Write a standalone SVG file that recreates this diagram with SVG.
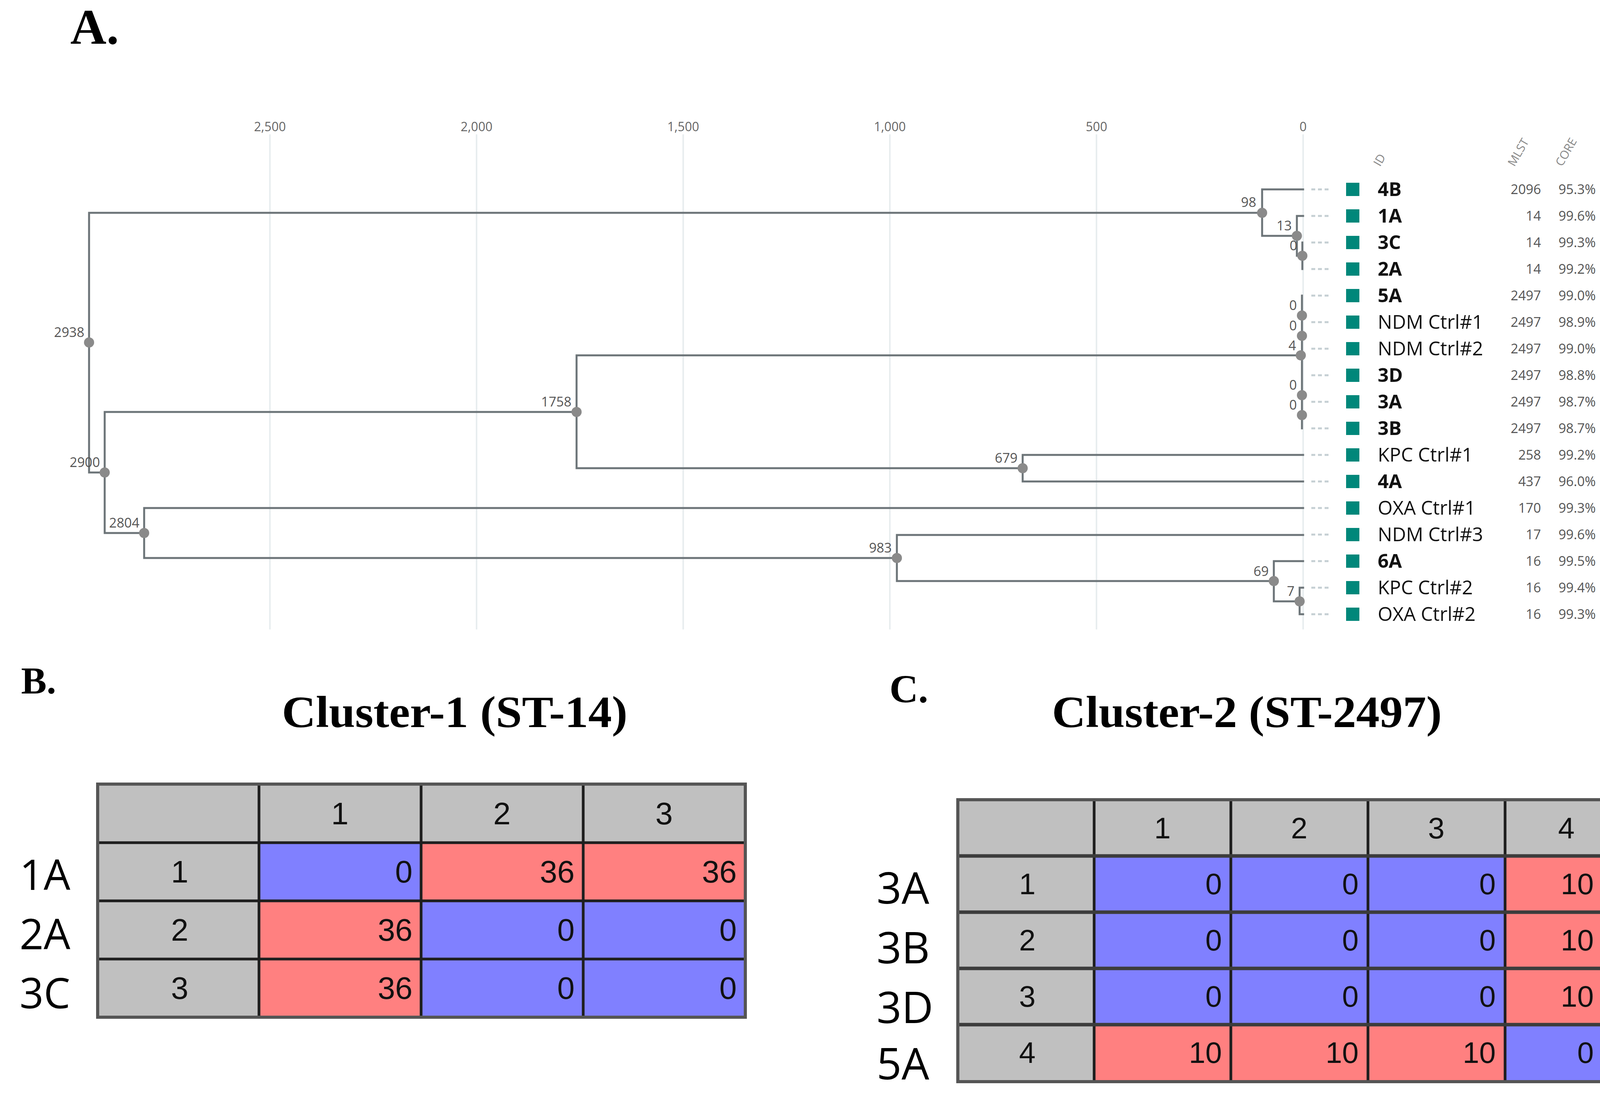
<svg xmlns="http://www.w3.org/2000/svg" width="4252" height="2817" viewBox="0 0 4252 2817">
<style>
.bg{fill:#ffffff}
.panel{font-family:"Liberation Serif",serif;font-weight:bold;fill:#000}
.title{font-family:"Liberation Serif",serif;font-weight:bold;fill:#000;text-anchor:middle}
.grid{stroke:#e8edef;stroke-width:4}
.axis{font-family:"Open Sans","DejaVu Sans",sans-serif;font-size:32px;fill:#666;text-anchor:middle}
.br{stroke:#6c7478;stroke-width:5;fill:none;stroke-linecap:square}
.dot{fill:#8a8a8a}
.nl{font-family:"Open Sans","DejaVu Sans",sans-serif;font-size:34px;fill:#555;text-anchor:end}
.dash{stroke:#c5cfd3;stroke-width:5;stroke-dasharray:10 7}
.sq{fill:#00877a}
.id{font-family:"Open Sans","DejaVu Sans",sans-serif;font-size:49px;fill:#111}
.idb{font-family:"Open Sans","DejaVu Sans",sans-serif;font-size:49px;fill:#111;font-weight:bold}
.num{font-family:"Open Sans","DejaVu Sans",sans-serif;font-size:34px;fill:#555;text-anchor:end}
.hdr{font-family:"Open Sans","DejaVu Sans",sans-serif;font-size:30px;fill:#888}
.g{fill:#c0c0c0}
.b{fill:#8080ff}
.r{fill:#ff8080}
.tl{stroke:#1e1e1e;stroke-width:7;fill:none}
.tlo{stroke:#555;stroke-width:8;fill:none}
.tc{font-family:"Liberation Sans",Arial,sans-serif;fill:#111;text-anchor:middle}
.tv{font-family:"Liberation Sans",Arial,sans-serif;fill:#111;text-anchor:end}
.rl{font-family:"Open Sans","DejaVu Sans",sans-serif;fill:#000}
</style>
<rect class="bg" x="0" y="0" width="4252" height="2817"/>

<!-- Panel letters and titles -->
<text class="panel" x="180" y="112" font-size="128">A.</text>
<text class="panel" x="54" y="1776" font-size="98">B.</text>
<text class="panel" x="2277" y="1799" font-size="102">C.</text>
<text class="title" x="1164" y="1862" font-size="114" textLength="885" lengthAdjust="spacingAndGlyphs">Cluster-1 (ST-14)</text>
<text class="title" x="3192" y="1862" font-size="114" textLength="998" lengthAdjust="spacingAndGlyphs">Cluster-2 (ST-2497)</text>

<!-- Axis -->
<g id="axis">
<line class="grid" x1="691" y1="344" x2="691" y2="1612"/>
<line class="grid" x1="1220" y1="344" x2="1220" y2="1612"/>
<line class="grid" x1="1749" y1="344" x2="1749" y2="1612"/>
<line class="grid" x1="2278" y1="344" x2="2278" y2="1612"/>
<line class="grid" x1="2807" y1="344" x2="2807" y2="1612"/>
<line class="grid" x1="3336" y1="344" x2="3336" y2="1612"/>
<text class="axis" x="691" y="336">2,500</text>
<text class="axis" x="1220" y="336">2,000</text>
<text class="axis" x="1749" y="336">1,500</text>
<text class="axis" x="2278" y="336">1,000</text>
<text class="axis" x="2807" y="336">500</text>
<text class="axis" x="3336" y="336">0</text>
</g>

<!-- Column headers -->
<g id="headers">
<text class="hdr" transform="translate(3533,428) rotate(-60)">ID</text>
<text class="hdr" transform="translate(3877,428) rotate(-60)">MLST</text>
<text class="hdr" transform="translate(3999,428) rotate(-60)">CORE</text>
</g>

<!-- Tree branches -->
<g id="connectors">
<path class="br" d="M3231,545 H228 V1210 H268"/>
<path class="br" d="M3336,485 H3231 V604 H3320"/>
<path class="br" d="M3336,553 H3320 V655 H3334"/>
<path class="br" d="M3334,621 V689"/>
<path class="br" d="M3333,757 V1097"/>
<path class="br" d="M1476,1055 H268 V1365 H369"/>
<path class="br" d="M3330,910 H1476 V1199 H2618"/>
<path class="br" d="M3336,1165 H2618 V1233 H3336"/>
<path class="br" d="M3336,1301 H369 V1429 H2296"/>
<path class="br" d="M3336,1370 H2296 V1488 H3261"/>
<path class="br" d="M3336,1437 H3261 V1540 H3327"/>
<path class="br" d="M3336,1505 H3327 V1573 H3336"/>
</g>

<!-- Internal nodes -->
<g id="node-2938"><circle class="dot" cx="228" cy="877" r="13"/><text class="nl" x="216" y="863">2938</text></g>
<g id="node-2900"><circle class="dot" cx="268" cy="1210" r="13"/><text class="nl" x="256" y="1196">2900</text></g>
<g id="node-2804"><circle class="dot" cx="369" cy="1365" r="13"/><text class="nl" x="357" y="1351">2804</text></g>
<g id="node-1758"><circle class="dot" cx="1476" cy="1055" r="13"/><text class="nl" x="1463" y="1041">1758</text></g>
<g id="node-983"><circle class="dot" cx="2296" cy="1429" r="13"/><text class="nl" x="2283" y="1415">983</text></g>
<g id="node-679"><circle class="dot" cx="2618" cy="1199" r="13"/><text class="nl" x="2605" y="1185">679</text></g>
<g id="node-98"><circle class="dot" cx="3231" cy="545" r="13"/><text class="nl" x="3216" y="530">98</text></g>
<g id="node-13"><circle class="dot" cx="3320" cy="604" r="13"/><text class="nl" x="3307" y="590">13</text></g>
<g id="node-0a"><circle class="dot" cx="3334" cy="655" r="13"/><text class="nl" x="3321" y="641">0</text></g>
<g id="node-0b"><circle class="dot" cx="3333" cy="808" r="13"/><text class="nl" x="3320" y="794">0</text></g>
<g id="node-0c"><circle class="dot" cx="3333" cy="860" r="13"/><text class="nl" x="3320" y="846">0</text></g>
<g id="node-4"><circle class="dot" cx="3330" cy="910" r="13"/><text class="nl" x="3318" y="897">4</text></g>
<g id="node-0d"><circle class="dot" cx="3333" cy="1012" r="13"/><text class="nl" x="3320" y="998">0</text></g>
<g id="node-0e"><circle class="dot" cx="3333" cy="1063" r="13"/><text class="nl" x="3320" y="1049">0</text></g>
<g id="node-69"><circle class="dot" cx="3261" cy="1488" r="13"/><text class="nl" x="3248" y="1475">69</text></g>
<g id="node-7"><circle class="dot" cx="3327" cy="1540" r="13"/><text class="nl" x="3314" y="1526">7</text></g>

<!-- Leaves -->
<g id="leaf-4B"><line class="dash" x1="3357" y1="485" x2="3401" y2="485"/><rect class="sq" x="3446" y="468" width="34" height="34"/><text class="idb" x="3527" y="502">4B</text><text class="num" x="3945" y="497">2096</text><text class="num" x="4085" y="497">95.3%</text></g>
<g id="leaf-1A"><line class="dash" x1="3357" y1="553" x2="3401" y2="553"/><rect class="sq" x="3446" y="536" width="34" height="34"/><text class="idb" x="3527" y="570">1A</text><text class="num" x="3945" y="565">14</text><text class="num" x="4085" y="565">99.6%</text></g>
<g id="leaf-3C"><line class="dash" x1="3357" y1="621" x2="3401" y2="621"/><rect class="sq" x="3446" y="604" width="34" height="34"/><text class="idb" x="3527" y="638">3C</text><text class="num" x="3945" y="633">14</text><text class="num" x="4085" y="633">99.3%</text></g>
<g id="leaf-2A"><line class="dash" x1="3357" y1="689" x2="3401" y2="689"/><rect class="sq" x="3446" y="672" width="34" height="34"/><text class="idb" x="3527" y="706">2A</text><text class="num" x="3945" y="701">14</text><text class="num" x="4085" y="701">99.2%</text></g>
<g id="leaf-5A"><line class="dash" x1="3357" y1="757" x2="3401" y2="757"/><rect class="sq" x="3446" y="740" width="34" height="34"/><text class="idb" x="3527" y="774">5A</text><text class="num" x="3945" y="769">2497</text><text class="num" x="4085" y="769">99.0%</text></g>
<g id="leaf-NDM1"><line class="dash" x1="3357" y1="825" x2="3401" y2="825"/><rect class="sq" x="3446" y="808" width="34" height="34"/><text class="id" x="3527" y="842">NDM Ctrl#1</text><text class="num" x="3945" y="837">2497</text><text class="num" x="4085" y="837">98.9%</text></g>
<g id="leaf-NDM2"><line class="dash" x1="3357" y1="893" x2="3401" y2="893"/><rect class="sq" x="3446" y="876" width="34" height="34"/><text class="id" x="3527" y="910">NDM Ctrl#2</text><text class="num" x="3945" y="905">2497</text><text class="num" x="4085" y="905">99.0%</text></g>
<g id="leaf-3D"><line class="dash" x1="3357" y1="961" x2="3401" y2="961"/><rect class="sq" x="3446" y="944" width="34" height="34"/><text class="idb" x="3527" y="978">3D</text><text class="num" x="3945" y="973">2497</text><text class="num" x="4085" y="973">98.8%</text></g>
<g id="leaf-3A"><line class="dash" x1="3357" y1="1029" x2="3401" y2="1029"/><rect class="sq" x="3446" y="1012" width="34" height="34"/><text class="idb" x="3527" y="1046">3A</text><text class="num" x="3945" y="1041">2497</text><text class="num" x="4085" y="1041">98.7%</text></g>
<g id="leaf-3B"><line class="dash" x1="3357" y1="1097" x2="3401" y2="1097"/><rect class="sq" x="3446" y="1080" width="34" height="34"/><text class="idb" x="3527" y="1114">3B</text><text class="num" x="3945" y="1109">2497</text><text class="num" x="4085" y="1109">98.7%</text></g>
<g id="leaf-KPC1"><line class="dash" x1="3357" y1="1165" x2="3401" y2="1165"/><rect class="sq" x="3446" y="1148" width="34" height="34"/><text class="id" x="3527" y="1182">KPC Ctrl#1</text><text class="num" x="3945" y="1177">258</text><text class="num" x="4085" y="1177">99.2%</text></g>
<g id="leaf-4A"><line class="dash" x1="3357" y1="1233" x2="3401" y2="1233"/><rect class="sq" x="3446" y="1216" width="34" height="34"/><text class="idb" x="3527" y="1250">4A</text><text class="num" x="3945" y="1245">437</text><text class="num" x="4085" y="1245">96.0%</text></g>
<g id="leaf-OXA1"><line class="dash" x1="3357" y1="1301" x2="3401" y2="1301"/><rect class="sq" x="3446" y="1284" width="34" height="34"/><text class="id" x="3527" y="1318">OXA Ctrl#1</text><text class="num" x="3945" y="1313">170</text><text class="num" x="4085" y="1313">99.3%</text></g>
<g id="leaf-NDM3"><line class="dash" x1="3357" y1="1369" x2="3401" y2="1369"/><rect class="sq" x="3446" y="1352" width="34" height="34"/><text class="id" x="3527" y="1386">NDM Ctrl#3</text><text class="num" x="3945" y="1381">17</text><text class="num" x="4085" y="1381">99.6%</text></g>
<g id="leaf-6A"><line class="dash" x1="3357" y1="1437" x2="3401" y2="1437"/><rect class="sq" x="3446" y="1420" width="34" height="34"/><text class="idb" x="3527" y="1454">6A</text><text class="num" x="3945" y="1449">16</text><text class="num" x="4085" y="1449">99.5%</text></g>
<g id="leaf-KPC2"><line class="dash" x1="3357" y1="1505" x2="3401" y2="1505"/><rect class="sq" x="3446" y="1488" width="34" height="34"/><text class="id" x="3527" y="1522">KPC Ctrl#2</text><text class="num" x="3945" y="1517">16</text><text class="num" x="4085" y="1517">99.4%</text></g>
<g id="leaf-OXA2"><line class="dash" x1="3357" y1="1573" x2="3401" y2="1573"/><rect class="sq" x="3446" y="1556" width="34" height="34"/><text class="id" x="3527" y="1590">OXA Ctrl#2</text><text class="num" x="3945" y="1585">16</text><text class="num" x="4085" y="1585">99.3%</text></g>

<!-- Table B -->
<g id="table-B">
<rect class="g" x="250" y="2008" width="1658" height="150"/>
<rect class="g" x="250" y="2158" width="413" height="447"/>
<rect class="b" x="663" y="2158" width="415" height="149"/>
<rect class="r" x="1078" y="2158" width="415" height="149"/>
<rect class="r" x="1493" y="2158" width="415" height="149"/>
<rect class="r" x="663" y="2307" width="415" height="149"/>
<rect class="b" x="1078" y="2307" width="415" height="149"/>
<rect class="b" x="1493" y="2307" width="415" height="149"/>
<rect class="r" x="663" y="2456" width="415" height="149"/>
<rect class="b" x="1078" y="2456" width="415" height="149"/>
<rect class="b" x="1493" y="2456" width="415" height="149"/>
<path class="tl" d="M663,2008 V2605 M1078,2008 V2605 M1493,2008 V2605 M250,2158 H1908 M250,2307 H1908 M250,2456 H1908"/>
<rect class="tlo" x="250" y="2008" width="1658" height="597"/>
<g font-size="80">
<text class="tc" x="870" y="2111">1</text>
<text class="tc" x="1285" y="2111">2</text>
<text class="tc" x="1700" y="2111">3</text>
<text class="tc" x="460" y="2260">1</text>
<text class="tc" x="460" y="2409">2</text>
<text class="tc" x="460" y="2558">3</text>
<text class="tv" x="1056" y="2260">0</text>
<text class="tv" x="1471" y="2260">36</text>
<text class="tv" x="1886" y="2260">36</text>
<text class="tv" x="1056" y="2409">36</text>
<text class="tv" x="1471" y="2409">0</text>
<text class="tv" x="1886" y="2409">0</text>
<text class="tv" x="1056" y="2558">36</text>
<text class="tv" x="1471" y="2558">0</text>
<text class="tv" x="1886" y="2558">0</text>
</g>
</g>
<g id="labels-B" font-size="108">
<text class="rl" x="50" y="2279">1A</text>
<text class="rl" x="50" y="2431">2A</text>
<text class="rl" x="50" y="2582">3C</text>
</g>

<!-- Table C -->
<g id="table-C">
<rect class="g" x="2452" y="2048" width="1752" height="144"/>
<rect class="g" x="2452" y="2192" width="349" height="578"/>
<rect class="b" x="2801" y="2192" width="1052" height="432"/>
<rect class="r" x="3853" y="2192" width="351" height="432"/>
<rect class="r" x="2801" y="2624" width="1052" height="146"/>
<rect class="b" x="3853" y="2624" width="351" height="146"/>
<path class="tl" d="M2801,2048 V2770 M3151,2048 V2770 M3502,2048 V2770 M3853,2048 V2770"/>
<path d="M2452,2192 H4204 M2452,2336 H4204 M2452,2480 H4204 M2452,2624 H4204" stroke="#3c3c3c" stroke-width="9" fill="none"/>
<rect class="tlo" x="2452" y="2048" width="1752" height="722"/>
<g font-size="76">
<text class="tc" x="2976" y="2147">1</text>
<text class="tc" x="3326" y="2147">2</text>
<text class="tc" x="3677" y="2147">3</text>
<text class="tc" x="4010" y="2147">4</text>
<text class="tc" x="2630" y="2290">1</text>
<text class="tc" x="2630" y="2434">2</text>
<text class="tc" x="2630" y="2578">3</text>
<text class="tc" x="2630" y="2722">4</text>
<text class="tv" x="3128" y="2290">0</text>
<text class="tv" x="3478" y="2290">0</text>
<text class="tv" x="3829" y="2290">0</text>
<text class="tv" x="4080" y="2290">10</text>
<text class="tv" x="3128" y="2434">0</text>
<text class="tv" x="3478" y="2434">0</text>
<text class="tv" x="3829" y="2434">0</text>
<text class="tv" x="4080" y="2434">10</text>
<text class="tv" x="3128" y="2578">0</text>
<text class="tv" x="3478" y="2578">0</text>
<text class="tv" x="3829" y="2578">0</text>
<text class="tv" x="4080" y="2578">10</text>
<text class="tv" x="3128" y="2722">10</text>
<text class="tv" x="3478" y="2722">10</text>
<text class="tv" x="3829" y="2722">10</text>
<text class="tv" x="4080" y="2722">0</text>
</g>
</g>
<g id="labels-C" font-size="112">
<text class="rl" x="2244" y="2314">3A</text>
<text class="rl" x="2244" y="2467">3B</text>
<text class="rl" x="2244" y="2620">3D</text>
<text class="rl" x="2244" y="2764">5A</text>
</g>
</svg>
